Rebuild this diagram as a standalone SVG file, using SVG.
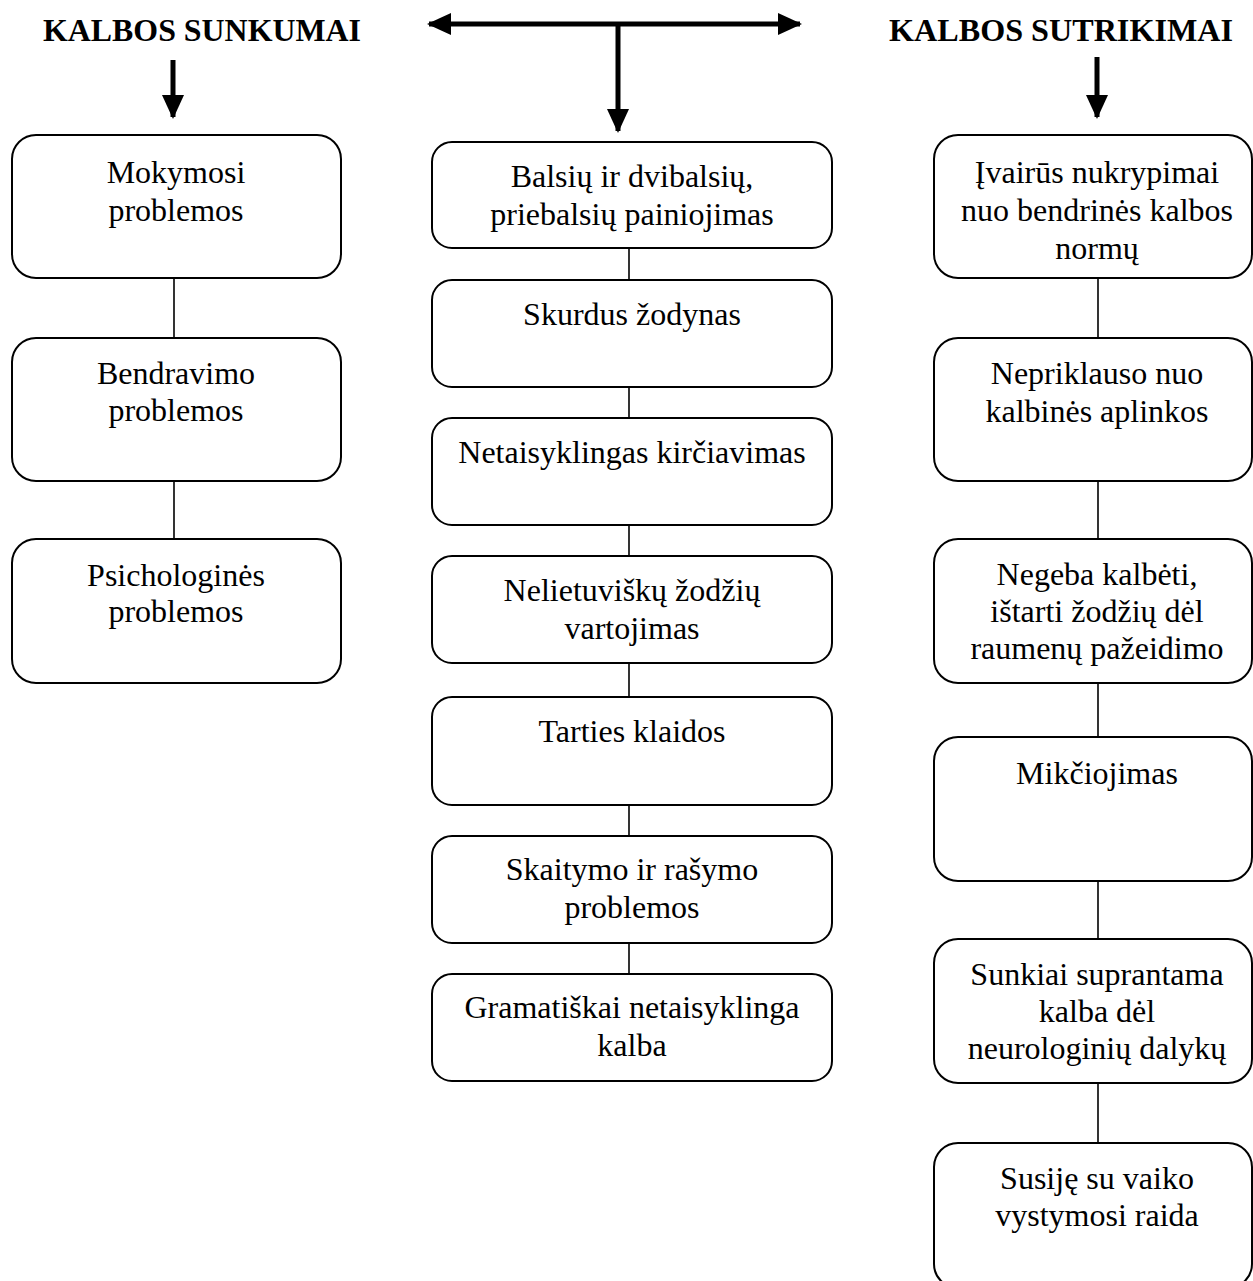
<svg xmlns="http://www.w3.org/2000/svg" width="1253" height="1281" viewBox="0 0 1253 1281">
<style>
.box{fill:#fff;stroke:#000;stroke-width:2}
.t{font-family:"Liberation Serif","Times New Roman",serif;font-size:32px;fill:#000;text-anchor:middle}
.h{font-family:"Liberation Serif","Times New Roman",serif;font-size:32px;font-weight:bold;fill:#000;text-anchor:middle}
.c{stroke:#000;stroke-width:1.6;fill:none}
.a{stroke:#000;stroke-width:5;fill:none}
</style>
<defs>
<marker id="ah" markerUnits="userSpaceOnUse" markerWidth="24" markerHeight="22" refX="22" refY="11" orient="auto">
<path d="M0,0 L24,11 L0,22 Z" fill="#000"/>
</marker>
</defs>
<rect width="1253" height="1281" fill="#fff"/>
<g id="connectors">
<line class="a" x1="618" y1="24" x2="429" y2="24" marker-end="url(#ah)"/>
<line class="a" x1="618" y1="24" x2="800" y2="24" marker-end="url(#ah)"/>
<line class="a" x1="618" y1="24" x2="618" y2="131" marker-end="url(#ah)"/>
<line class="a" x1="173" y1="60" x2="173" y2="117" marker-end="url(#ah)"/>
<line class="a" x1="1097" y1="57" x2="1097" y2="117" marker-end="url(#ah)"/>
<line class="c" x1="174" y1="278" x2="174" y2="338"/>
<line class="c" x1="174" y1="481" x2="174" y2="539"/>
<line class="c" x1="629" y1="248" x2="629" y2="280"/>
<line class="c" x1="629" y1="387" x2="629" y2="418"/>
<line class="c" x1="629" y1="525" x2="629" y2="556"/>
<line class="c" x1="629" y1="663" x2="629" y2="697"/>
<line class="c" x1="629" y1="805" x2="629" y2="836"/>
<line class="c" x1="629" y1="943" x2="629" y2="974"/>
<line class="c" x1="1098" y1="278" x2="1098" y2="338"/>
<line class="c" x1="1098" y1="481" x2="1098" y2="539"/>
<line class="c" x1="1098" y1="683" x2="1098" y2="737"/>
<line class="c" x1="1098" y1="881" x2="1098" y2="939"/>
<line class="c" x1="1098" y1="1083" x2="1098" y2="1143"/>
</g>
<g id="header-sunkumai"><text class="h" x="202" y="41" textLength="318" lengthAdjust="spacingAndGlyphs">KALBOS SUNKUMAI</text></g>
<g id="header-sutrikimai"><text class="h" x="1061" y="41" textLength="344" lengthAdjust="spacingAndGlyphs">KALBOS SUTRIKIMAI</text></g>

<g id="l1"><rect class="box" x="12" y="135" width="329" height="143" rx="24"/><text class="t" x="176" y="183">Mokymosi</text><text class="t" x="176" y="221">problemos</text></g>
<g id="l2"><rect class="box" x="12" y="338" width="329" height="143" rx="24"/><text class="t" x="176" y="384">Bendravimo</text><text class="t" x="176" y="421">problemos</text></g>
<g id="l3"><rect class="box" x="12" y="539" width="329" height="144" rx="24"/><text class="t" x="176" y="586">Psichologinės</text><text class="t" x="176" y="622">problemos</text></g>

<g id="m1"><rect class="box" x="432" y="142" width="400" height="106" rx="20"/><text class="t" x="632" y="187">Balsių ir dvibalsių,</text><text class="t" x="632" y="225">priebalsių painiojimas</text></g>
<g id="m2"><rect class="box" x="432" y="280" width="400" height="107" rx="20"/><text class="t" x="632" y="325">Skurdus žodynas</text></g>
<g id="m3"><rect class="box" x="432" y="418" width="400" height="107" rx="20"/><text class="t" x="632" y="463">Netaisyklingas kirčiavimas</text></g>
<g id="m4"><rect class="box" x="432" y="556" width="400" height="107" rx="20"/><text class="t" x="632" y="601">Nelietuviškų žodžių</text><text class="t" x="632" y="639">vartojimas</text></g>
<g id="m5"><rect class="box" x="432" y="697" width="400" height="108" rx="20"/><text class="t" x="632" y="742">Tarties klaidos</text></g>
<g id="m6"><rect class="box" x="432" y="836" width="400" height="107" rx="20"/><text class="t" x="632" y="880">Skaitymo ir rašymo</text><text class="t" x="632" y="918">problemos</text></g>
<g id="m7"><rect class="box" x="432" y="974" width="400" height="107" rx="20"/><text class="t" x="632" y="1018">Gramatiškai netaisyklinga</text><text class="t" x="632" y="1056">kalba</text></g>

<g id="r1"><rect class="box" x="934" y="135" width="318" height="143" rx="24"/><text class="t" x="1097" y="183">Įvairūs nukrypimai</text><text class="t" x="1097" y="221">nuo bendrinės kalbos</text><text class="t" x="1097" y="259">normų</text></g>
<g id="r2"><rect class="box" x="934" y="338" width="318" height="143" rx="24"/><text class="t" x="1097" y="384">Nepriklauso nuo</text><text class="t" x="1097" y="422">kalbinės aplinkos</text></g>
<g id="r3"><rect class="box" x="934" y="539" width="318" height="144" rx="24"/><text class="t" x="1097" y="585">Negeba kalbėti,</text><text class="t" x="1097" y="622">ištarti žodžių dėl</text><text class="t" x="1097" y="659">raumenų pažeidimo</text></g>
<g id="r4"><rect class="box" x="934" y="737" width="318" height="144" rx="24"/><text class="t" x="1097" y="784">Mikčiojimas</text></g>
<g id="r5"><rect class="box" x="934" y="939" width="318" height="144" rx="24"/><text class="t" x="1097" y="985">Sunkiai suprantama</text><text class="t" x="1097" y="1022">kalba dėl</text><text class="t" x="1097" y="1059">neurologinių dalykų</text></g>
<g id="r6"><rect class="box" x="934" y="1143" width="318" height="145" rx="24"/><text class="t" x="1097" y="1189">Susiję su vaiko</text><text class="t" x="1097" y="1226">vystymosi raida</text></g>
</svg>
